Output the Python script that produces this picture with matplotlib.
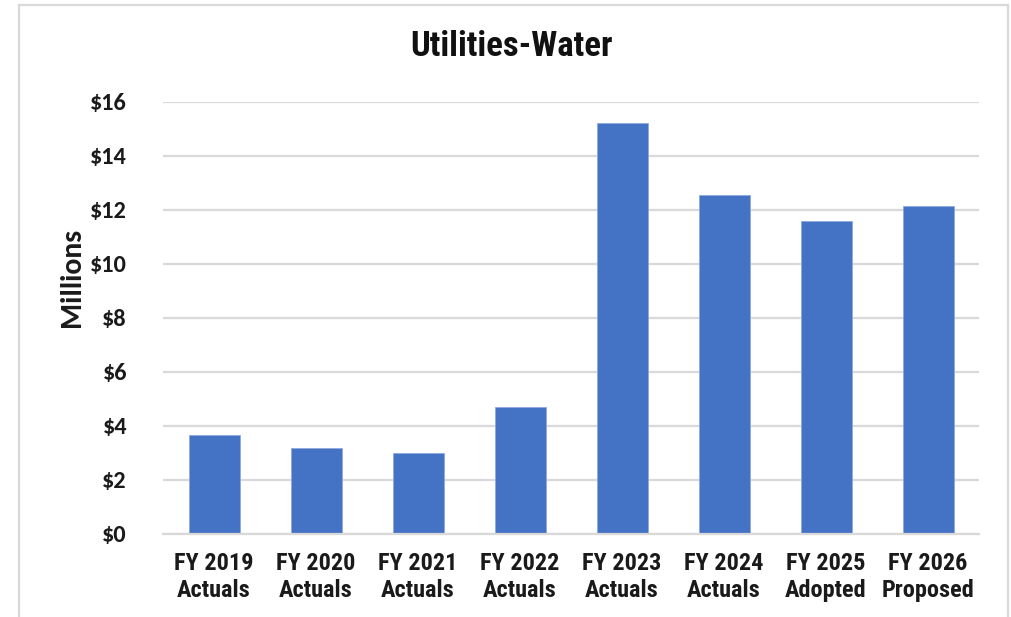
import matplotlib
matplotlib.use("Agg")
import matplotlib.pyplot as plt
from matplotlib.lines import Line2D
from matplotlib.ticker import FuncFormatter

categories = ["FY 2019\nActuals", "FY 2020\nActuals", "FY 2021\nActuals", "FY 2022\nActuals",
              "FY 2023\nActuals", "FY 2024\nActuals", "FY 2025\nAdopted", "FY 2026\nProposed"]
values = [3.66, 3.18, 3.00, 4.70, 15.22, 12.55, 11.59, 12.16]
yticks = [0, 2, 4, 6, 8, 10, 12, 14, 16]
title = "Utilities-Water"
ylabel = "Millions"

W, H = 1012, 617
fig = plt.figure(figsize=(W / 100, H / 100), dpi=100)
ax = fig.add_axes([163 / W, 1 - 533.5 / H, (979 - 163) / W, (533.5 - 102) / H])

narrow = ["Roboto Condensed", "DejaVu Sans"]
calib = ["Carlito", "DejaVu Sans"]
grid_c = "#d9d9d9"

x = list(range(len(categories)))
ax.bar(x, values, width=0.5, color="#4472C4", edgecolor="#8faadc", linewidth=0.6, zorder=3)
ax.set_xlim(-0.5, len(categories) - 0.5)
ax.set_ylim(0, 16)
ax.set_yticks(yticks)
ax.yaxis.set_major_formatter(FuncFormatter(lambda v, p: f"${v:.0f}"))
ax.grid(axis="y", color=grid_c, linewidth=1.6, zorder=0)
for s in ["top", "right", "left"]:
    ax.spines[s].set_visible(False)
ax.spines["bottom"].set_color(grid_c)
ax.spines["bottom"].set_linewidth(1.6)
ax.spines["bottom"].set_zorder(4)
ax.tick_params(axis="both", length=0)
ax.tick_params(axis="y", pad=26)
ax.tick_params(axis="x", pad=13)
ax.set_xticks(x)
ax.set_xticklabels(categories, fontsize=17.5, fontweight="bold", family=narrow,
                   color="#1a1a1a", linespacing=1.25)
for lbl in ax.get_yticklabels():
    lbl.set_family(calib)
    lbl.set_fontweight("bold")
    lbl.set_fontsize(17.5)
    lbl.set_color("#1a1a1a")

fig.text(72 / W, 1 - 277.5 / H, ylabel, rotation=90, ha="center", va="center",
         fontsize=21.5, fontweight="bold", family=calib, color="#1a1a1a")
fig.text(512 / W, 1 - 46 / H, title, ha="center", va="center", fontsize=25,
         fontweight="bold", family=narrow, color="#111111")

# outer chart border (bottom edge falls outside the image)
bc = "#d9d9d9"
fig.add_artist(Line2D([19 / W, 19 / W], [1 - 5 / H, 0], transform=fig.transFigure, color=bc, lw=1.6))
fig.add_artist(Line2D([1008 / W, 1008 / W], [1 - 5 / H, 0], transform=fig.transFigure, color=bc, lw=1.6))
fig.add_artist(Line2D([19 / W, 1008 / W], [1 - 5 / H, 1 - 5 / H], transform=fig.transFigure, color=bc, lw=1.6))

fig.savefig("out.png", dpi=100)
